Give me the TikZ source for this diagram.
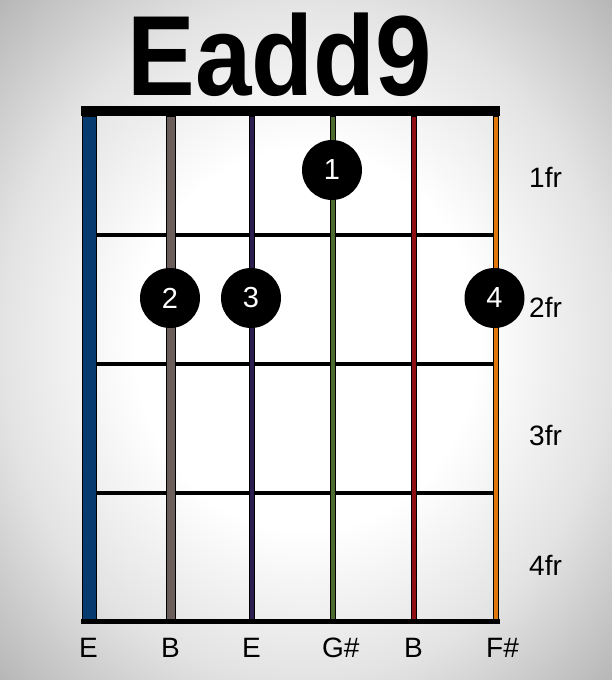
\documentclass[tikz,border=0pt]{standalone}
\usepackage{fontspec}
\setmainfont{Liberation Sans}
\definecolor{sblue}{HTML}{073A6E}
\definecolor{sgray}{HTML}{6A5D5A}
\definecolor{spurple}{HTML}{2C1E4E}
\definecolor{sgreen}{HTML}{4B6B2F}
\definecolor{sred}{HTML}{8E1013}
\definecolor{sorange}{HTML}{E0770B}
\pgfdeclareradialshading{bgshade}{\pgfpoint{0bp}{0bp}}{color(0bp)=(white); color(14bp)=(white); color(25bp)=(black!11); color(34bp)=(black!26); color(50bp)=(black!56)}
\tikzset{
  stringbar/.style={draw=black, line width=0.5pt},
  fretbar/.style={fill=black},
  fingerdot/.style={circle, fill=black, minimum size=60pt, inner sep=0pt, text=white, font=\fontsize{29}{29}\selectfont},
  notelabel/.style={anchor=base west, inner sep=0pt, font=\fontsize{28}{28}\selectfont},
  frlabel/.style={anchor=base west, inner sep=0pt, font=\fontsize{28}{28}\selectfont},
  titlelabel/.style={anchor=base, inner sep=0pt, font=\fontsize{114}{114}\selectfont\bfseries}
}
\begin{document}
\begin{tikzpicture}[x=1pt,y=-1pt]
\useasboundingbox (0,0) rectangle (612,680);
\shade[shading=bgshade] (0,0) rectangle (612,680);
% title
\node[titlelabel] (title) at (280,95) {\scalebox{0.89}[1]{Eadd9}};
% fret lines
\fill[fretbar] (96,232.7) rectangle (493,237.3);
\fill[fretbar] (96,361.7) rectangle (493,366.3);
\fill[fretbar] (96,490.7) rectangle (493,495.3);
% strings
\filldraw[stringbar, fill=sblue] (82,116) rectangle (96,619);
\filldraw[stringbar, fill=sgray] (166,116) rectangle (175,619);
\filldraw[stringbar, fill=spurple] (249,116) rectangle (254,619);
\filldraw[stringbar, fill=sgreen] (330,116) rectangle (335,619);
\filldraw[stringbar, fill=sred] (411,116) rectangle (416,619);
\filldraw[stringbar, fill=sorange] (493,116) rectangle (498,619);
% nut and bottom
\fill[fretbar] (81,106) rectangle (500,116);
\fill[fretbar] (81,619) rectangle (500,624);
% finger dots
\node[fingerdot] (d1) at (332,170) {1};
\node[fingerdot] (d2) at (170,298) {2};
\node[fingerdot] (d3) at (251,298) {3};
\node[fingerdot] (d4) at (494.5,298) {4};
% fret labels
\node[frlabel] (f1) at (529,187) {1fr};
\node[frlabel] (f2) at (529,317) {2fr};
\node[frlabel] (f3) at (529,445) {3fr};
\node[frlabel] (f4) at (529,575) {4fr};
% note labels
\node[notelabel] (n1) at (79,657) {E};
\node[notelabel] (n2) at (161,657) {B};
\node[notelabel] (n3) at (242,657) {E};
\node[notelabel] (n4) at (322,657) {G\#};
\node[notelabel] (n5) at (404,657) {B};
\node[notelabel] (n6) at (486,657) {F\#};
\end{tikzpicture}
\end{document}
